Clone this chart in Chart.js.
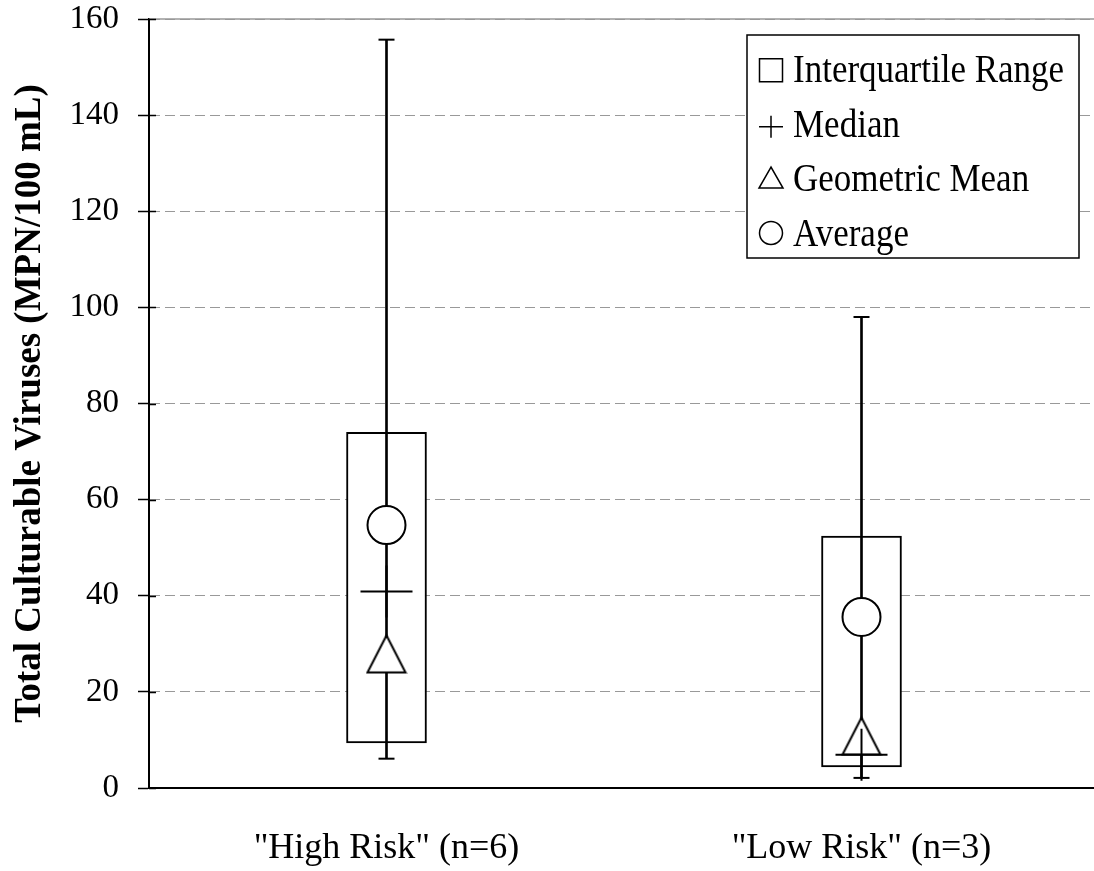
<!DOCTYPE html>
<html>
<head>
<meta charset="utf-8">
<script src="https://cdn.jsdelivr.net/npm/chart.js@4/dist/chart.umd.min.js"></script>
<style>
  html, body { margin: 0; padding: 0; background: #fff; overflow: hidden; }
</style>
</head>
<body>
<canvas id="boxChart" width="1100" height="871"></canvas>
<script>
const categories = ['"High Risk" (n=6)', '"Low Risk" (n=3)'];
const minVals = [6.1, 2.1];
const q1Vals = [9.4, 4.4];
const medianVals = [40.9, 6.9];
const q3Vals = [74.0, 52.4];
const maxVals = [155.7, 98.0];
const geoMeanVals = [28.0, 10.9];
const averageVals = [54.7, 35.6];
const yTicks = [0, 20, 40, 60, 80, 100, 120, 140, 160];

const serif = '"Times New Roman", "Liberation Serif", serif';

// open triangle marker, centred on its bounding box
const triangleMark = document.createElement('canvas');
triangleMark.width = 42;
triangleMark.height = 41;
(function () {
  const c = triangleMark.getContext('2d');
  c.lineWidth = 2;
  c.strokeStyle = '#000';
  c.fillStyle = '#fff';
  c.beginPath();
  c.moveTo(21, 2.5);
  c.lineTo(2, 39.5);
  c.lineTo(40, 39.5);
  c.closePath();
  c.fill();
  c.stroke();
})();

// solid top edge of the plot and the short inner tick marks on the y axis
const frame = {
  id: 'frame',
  afterDraw(chart) {
    const { ctx, chartArea } = chart;
    const y = chart.scales.y;
    ctx.save();
    ctx.strokeStyle = '#999';
    ctx.lineWidth = 1.5;
    ctx.beginPath();
    ctx.moveTo(chartArea.left, chartArea.top);
    ctx.lineTo(chartArea.right, chartArea.top);
    ctx.stroke();
    ctx.strokeStyle = '#000';
    ctx.beginPath();
    yTicks.forEach(v => {
      const py = Math.round(y.getPixelForValue(v)) + 0.5;
      ctx.moveTo(chartArea.left, py);
      ctx.lineTo(chartArea.left + 7, py);
    });
    ctx.stroke();
    ctx.restore();
  }
};

// boxed key in the upper right corner
const legendEntries = [
  { mark: 'square', text: 'Interquartile Range' },
  { mark: 'plus', text: 'Median' },
  { mark: 'triangle', text: 'Geometric Mean' },
  { mark: 'circle', text: 'Average' }
];

const keyBox = {
  id: 'keyBox',
  afterDraw(chart) {
    const { ctx, chartArea } = chart;
    const w = 332, h = 223;
    const x0 = chartArea.right - 20 - w;
    const y0 = chartArea.top + 16;
    ctx.save();
    ctx.fillStyle = '#fff';
    ctx.fillRect(x0, y0, w, h);
    ctx.strokeStyle = '#000';
    ctx.lineWidth = 1.5;
    ctx.strokeRect(x0, y0, w, h);

    legendEntries.forEach((e, i) => {
      const base = y0 + 47.3 + i * 54.4;
      const sx = x0 + 12;
      ctx.lineWidth = 1.5;
      ctx.strokeStyle = '#000';
      ctx.beginPath();
      if (e.mark === 'square') {
        ctx.rect(sx + 0.5, base - 23.5, 23, 23);
      } else if (e.mark === 'plus') {
        ctx.moveTo(sx, base - 10);
        ctx.lineTo(sx + 24, base - 10);
        ctx.moveTo(sx + 12, base - 21);
        ctx.lineTo(sx + 12, base + 1);
      } else if (e.mark === 'triangle') {
        ctx.moveTo(sx + 12, base - 24);
        ctx.lineTo(sx, base - 3);
        ctx.lineTo(sx + 24, base - 3);
        ctx.closePath();
      } else {
        ctx.arc(sx + 12, base - 12.5, 11.5, 0, Math.PI * 2);
      }
      ctx.stroke();

      ctx.save();
      ctx.translate(x0 + 46, base);
      ctx.scale(1, 1.15);
      ctx.fillStyle = '#000';
      ctx.font = '35px ' + serif;
      ctx.textBaseline = 'alphabetic';
      ctx.fillText(e.text, 0, 0);
      ctx.restore();
    });
    ctx.restore();
  }
};

const marker = {
  type: 'line',
  showLine: false,
  borderColor: '#000',
  pointBorderColor: '#000',
  pointBackgroundColor: '#fff',
  pointBorderWidth: 2
};

new Chart(document.getElementById('boxChart'), {
  data: {
    labels: categories,
    datasets: [
      { ...marker, label: 'Median', data: medianVals, pointStyle: 'cross', pointRadius: 26, order: 0 },
      { ...marker, label: 'Geometric Mean', data: geoMeanVals, pointStyle: triangleMark, pointRadius: 20, order: 1 },
      { ...marker, label: 'Average', data: averageVals, pointStyle: 'circle', pointRadius: 19, order: 2 },
      { ...marker, label: 'Maximum', data: maxVals, pointStyle: 'line', pointRadius: 8, order: 3 },
      { ...marker, label: 'Minimum', data: minVals, pointStyle: 'line', pointRadius: 8, order: 3 },
      {
        type: 'bar',
        label: 'Range',
        data: categories.map((c, i) => [minVals[i], maxVals[i]]),
        backgroundColor: '#000',
        borderWidth: 0,
        barThickness: 2,
        grouped: false,
        order: 4
      },
      {
        type: 'bar',
        label: 'Interquartile Range',
        data: categories.map((c, i) => [q1Vals[i], q3Vals[i]]),
        backgroundColor: '#fff',
        borderColor: '#000',
        borderWidth: 2,
        borderSkipped: false,
        barThickness: 80,
        grouped: false,
        order: 5
      }
    ]
  },
  options: {
    responsive: false,
    animation: false,
    devicePixelRatio: 1,
    layout: { autoPadding: false, padding: { top: 0, right: 1, left: 0, bottom: 0 } },
    plugins: {
      legend: { display: false },
      tooltip: { enabled: false }
    },
    scales: {
      x: {
        type: 'category',
        offset: true,
        grid: { display: false, drawTicks: false },
        border: { display: true, color: '#000', width: 2 },
        ticks: {
          color: '#000',
          font: { family: serif, size: 36 },
          padding: 39,
          maxRotation: 0,
          autoSkip: false
        },
        afterFit: s => { s.height = 83; }
      },
      y: {
        min: 0,
        max: 160,
        afterBuildTicks: s => { s.ticks = yTicks.map(v => ({ value: v })); },
        grid: {
          color: '#999',
          lineWidth: 1,
          tickLength: 11,
          tickColor: '#000',
          tickWidth: 1.5
        },
        border: { display: true, color: '#000', width: 2, dash: [10, 5] },
        ticks: {
          color: '#000',
          font: { family: serif, size: 33 },
          padding: 19
        },
        title: {
          display: true,
          text: 'Total Culturable Viruses (MPN/100 mL)',
          color: '#000',
          font: { family: serif, size: 37, weight: 'bold' },
          padding: { top: 8, bottom: 0 }
        },
        afterFit: s => {
          s.width = 149;
          s.paddingTop = 19;
          s.paddingBottom = 0;
        }
      }
    }
  },
  plugins: [frame, keyBox]
});
</script>
</body>
</html>
